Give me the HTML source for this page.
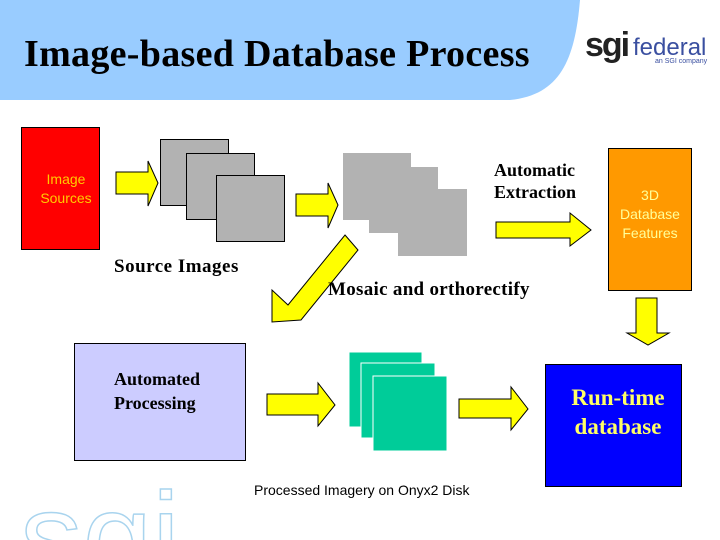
<!DOCTYPE html>
<html style="overflow:hidden"><head><meta charset="utf-8"><style>
html,body{margin:0;width:720px;height:540px;overflow:hidden}
body{background:#fff;position:relative;font-family:"Liberation Sans",sans-serif}
.a{position:absolute;white-space:nowrap}
.serif{font-family:"Liberation Serif",serif;font-weight:bold}
</style></head><body>
<svg class="a" style="left:0;top:0;overflow:hidden" width="720" height="540">
<path d="M0 0 H580 C575 60 560 95 510 100 H0 Z" fill="#99ccff"/>
<text x="20" y="580" font-family="Liberation Sans" font-size="125" fill="none" stroke="#a9d4ee" stroke-width="1.5">sgi</text>
<rect x="21.5" y="127.5" width="78" height="122" fill="#ff0000" stroke="#000"/>
<rect x="160.5" y="139.5" width="68" height="66" fill="#b2b2b2" stroke="#000"/>
<rect x="186.5" y="153.5" width="68" height="66" fill="#b2b2b2" stroke="#000"/>
<rect x="216.5" y="175.5" width="68" height="66" fill="#b2b2b2" stroke="#000"/>
<rect x="343" y="153" width="68" height="67" fill="#b2b2b2"/>
<rect x="369" y="167" width="69" height="66" fill="#b2b2b2"/>
<rect x="398" y="189" width="69" height="67" fill="#b2b2b2"/>
<rect x="608.5" y="148.5" width="83" height="142" fill="#ff9900" stroke="#000"/>
<g fill="#ffff00" stroke="#000" stroke-width="1">
<path d="M116 172 H148 V161 L158 183 L148 206 V194 H116 Z"/>
<path d="M296 194 H328 V183 L338 205 L328 228 V216 H296 Z"/>
<path d="M496 222 H570 V213 L591 230 L570 246 V238 H496 Z"/>
<path d="M345 235 L358 250 L301 320 L272 322 L272 290 L288 305 Z"/>
<path d="M636 298 H657 V333 H669 L648 345 L627 333 H636 Z"/>
<path d="M267 394 H318 V383 L335 405 L318 426 V415 H267 Z"/>
<path d="M459 399 H511 V387 L528 409 L511 430 V418 H459 Z"/>
</g>
<rect x="74.5" y="343.5" width="171" height="117" fill="#ccccff" stroke="#000"/>
<rect x="349" y="352" width="73" height="75" fill="#00cc99" stroke="#fff"/>
<rect x="361" y="363" width="74" height="75" fill="#00cc99" stroke="#fff"/>
<rect x="373" y="376" width="74" height="75" fill="#00cc99" stroke="#fff"/>
<rect x="545.5" y="364.5" width="136" height="122" fill="#0000ff" stroke="#000"/>
</svg>
<div class="a serif" style="left:24px;top:32px;font-size:38px;color:#000;letter-spacing:0.3px">Image-based Database Process</div>
<div class="a" style="left:585px;top:26px;font-size:34px;font-weight:bold;color:#222;letter-spacing:-2px">sgi</div>
<div class="a" style="left:633px;top:34px;font-size:24px;color:#3a4fa0">federal</div>
<div class="a" style="left:655px;top:58px;font-size:7px;color:#3a4fa0">an SGI company</div>
<div class="a" style="left:22px;top:170px;width:88px;text-align:center;font-size:14px;line-height:19px;color:#ffcc00">Image<br>Sources</div>
<div class="a" style="left:608px;top:186px;width:84px;text-align:center;font-size:14px;line-height:19px;color:#ffff99">3D<br>Database<br>Features</div>
<div class="a serif" style="left:494px;top:159px;font-size:18px;line-height:22px">Automatic<br>Extraction</div>
<div class="a serif" style="left:114px;top:256px;font-size:19px;letter-spacing:0.5px">Source Images</div>
<div class="a serif" style="left:328px;top:279px;font-size:19px;letter-spacing:0.3px">Mosaic and orthorectify</div>
<div class="a serif" style="left:114px;top:367px;font-size:18px;line-height:24px">Automated<br>Processing</div>
<div class="a serif" style="left:545px;top:383px;width:146px;text-align:center;font-size:23px;line-height:29px;color:#ffff66">Run-time<br>database</div>
<div class="a" style="left:254px;top:482px;font-size:14px">Processed Imagery on Onyx2 Disk</div>
</body></html>
